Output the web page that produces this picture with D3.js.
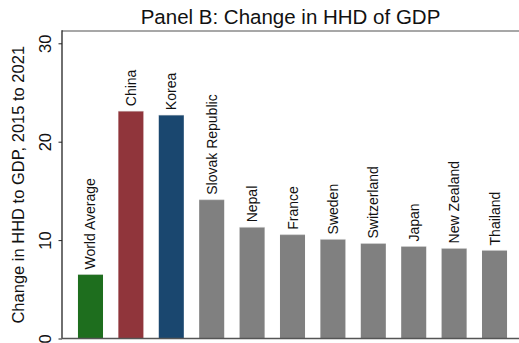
<!DOCTYPE html>
<html>
<head>
<meta charset="utf-8">
<script src="https://cdn.jsdelivr.net/npm/d3@7"></script>
<style>
  html, body { margin: 0; padding: 0; background: #fff; }
  svg { display: block; font-family: "Liberation Sans", Arial, Helvetica, sans-serif; }
</style>
</head>
<body>
<svg id="chart" width="519" height="343"></svg>
<script>
// Change in household debt to GDP, 2015 to 2021 (percentage points)
const countries = ["World Average", "China", "Korea", "Slovak Republic", "Nepal", "France",
                   "Sweden", "Switzerland", "Japan", "New Zealand", "Thailand"];
const changes = [6.5, 23.1, 22.7, 14.1, 11.3, 10.55, 10.07, 9.65, 9.35, 9.15, 8.95];
const barColors = ["#1e6e1e", "#90353b", "#1a476f", "#808080", "#808080", "#808080",
                   "#808080", "#808080", "#808080", "#808080", "#808080"];
const yTicks = [0, 10, 20, 30];
const titleText = "Panel B: Change in HHD of GDP";
const yTitle = "Change in HHD to GDP, 2015 to 2021";

const svg = d3.select("#chart");
const plot = { left: 62, right: 519, top: 31, bottom: 338.5 };

const x = d3.scaleBand()
  .domain(countries)
  .range([plot.left, 523])
  .paddingInner(0.38)
  .paddingOuter(0.395);

const y = d3.scaleLinear()
  .domain([0, 30])
  .range([plot.bottom, 43.3]);

// title
svg.append("text")
  .attr("x", (plot.left + plot.right) / 2)
  .attr("y", 23.8)
  .attr("text-anchor", "middle")
  .attr("font-size", 20.5)
  .attr("fill", "#111")
  .text(titleText);

// frame lines
svg.append("line")
  .attr("x1", plot.left).attr("x2", plot.right)
  .attr("y1", plot.top).attr("y2", plot.top)
  .attr("stroke", "#8a8a8a").attr("stroke-width", 1.5);

// bars
const bars = countries.map((c, i) => ({ c, v: changes[i], col: barColors[i] }));
svg.append("g").selectAll("rect")
  .data(bars)
  .join("rect")
  .attr("x", d => x(d.c))
  .attr("width", x.bandwidth())
  .attr("y", d => y(d.v))
  .attr("height", d => y(0) - y(d.v))
  .attr("fill", d => d.col);

// bar top highlight edge
svg.append("g").selectAll("line")
  .data(bars)
  .join("line")
  .attr("x1", d => x(d.c)).attr("x2", d => x(d.c) + x.bandwidth())
  .attr("y1", d => y(d.v)).attr("y2", d => y(d.v))
  .attr("stroke", "#d8d8d8").attr("stroke-opacity", 0.6).attr("stroke-width", 0.8);

// bar labels, rotated
svg.append("g").selectAll("text")
  .data(bars)
  .join("text")
  .attr("transform", d => `translate(${x(d.c) + x.bandwidth() / 2},${y(d.v) - 5}) rotate(-90)`)
  .attr("y", 5)
  .attr("font-size", 14)
  .attr("fill", "#111")
  .text(d => d.c);

// y axis
const yAxis = d3.axisLeft(y).tickValues(yTicks).tickSize(3.5).tickFormat(d3.format("d"));
const gy = svg.append("g")
  .attr("transform", `translate(${plot.left},0)`)
  .call(yAxis);
gy.select(".domain").remove();
gy.selectAll(".tick line").attr("stroke", "#222");
gy.selectAll(".tick text")
  .attr("font-size", 16.5)
  .attr("font-family", "Liberation Sans, Arial, sans-serif")
  .attr("fill", "#111")
  .attr("x", null).attr("dy", null)
  .attr("text-anchor", "middle")
  .attr("transform", "translate(-11,0) rotate(-90)")
  .attr("y", 0);

svg.append("line")
  .attr("x1", plot.left).attr("x2", plot.left)
  .attr("y1", plot.top - 0.75).attr("y2", plot.bottom)
  .attr("stroke", "#222").attr("stroke-width", 1.3);

svg.append("line")
  .attr("x1", plot.left).attr("x2", plot.right)
  .attr("y1", plot.bottom).attr("y2", plot.bottom)
  .attr("stroke", "#555").attr("stroke-width", 1.5);

// y axis title
svg.append("text")
  .attr("transform", `translate(24,${(plot.top + plot.bottom) / 2}) rotate(-90)`)
  .attr("text-anchor", "middle")
  .attr("font-size", 16.5)
  .attr("fill", "#111")
  .text(yTitle);
</script>
</body>
</html>
